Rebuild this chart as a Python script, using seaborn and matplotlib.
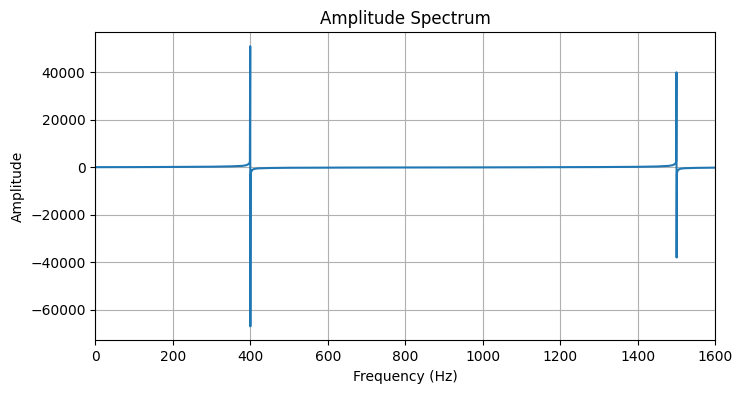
import pandas as pd
import seaborn as sns
import matplotlib.pyplot as plt

# ---------------------------------------
# Data
# ---------------------------------------
freq_hz = [0, 100, 200, 300, 350, 380, 390, 395, 398, 399, 399.8,
           400.2, 401, 402, 405, 410, 420, 450, 500, 700, 1000,
           1300, 1400, 1450, 1480, 1490, 1495, 1498, 1499, 1499.8,
           1500.2, 1501, 1502, 1505, 1510, 1520, 1550, 1600]
amplitude = [50, 80, 150, 250, 400, 600, 900, 1300, 1800, 2500, 51000,
             -67000, -3500, -2000, -1100, -700, -450, -300, -200, -100, -40,
             100, 200, 350, 600, 900, 1300, 1800, 2500, 40000,
             -38000, -2800, -1700, -1000, -600, -400, -250, -150]

df = pd.DataFrame({'freq': freq_hz, 'amp': amplitude})

# ---------------------------------------
# Plot
# ---------------------------------------
fig = plt.figure(figsize=(7.42, 3.93), dpi=100)
ax = fig.add_axes([0.1284, 0.134, 0.964 - 0.1284, 0.918 - 0.134])

sns.lineplot(data=df, x='freq', y='amp', color='#1f77b4', linewidth=1.5, ax=ax)

ax.set_xlim(0, 1600)
ax.grid(True)

ax.set_title("Amplitude Spectrum")
ax.set_xlabel("Frequency (Hz)")
ax.set_ylabel("Amplitude")

# ---------------------------------------
# Save Output
# ---------------------------------------
fig.savefig('out.png', dpi=100)
plt.close()
